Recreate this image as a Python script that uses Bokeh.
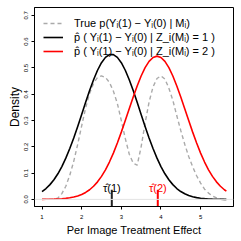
from bokeh.plotting import figure
from bokeh.models import FixedTicker, PrintfTickFormatter, Span, Legend, LegendItem
from bokeh.embed import file_html
from bokeh.resources import INLINE
from bokeh.core.properties import value

# ---- data ----
x_grid = [1.0, 1.1, 1.2, 1.3, 1.4, 1.5, 1.6, 1.7, 1.8, 1.9,
          2.0, 2.1, 2.2, 2.3, 2.4, 2.5, 2.6, 2.7, 2.8, 2.9,
          3.0, 3.1, 3.2, 3.3, 3.4, 3.5, 3.6, 3.7, 3.8, 3.9,
          4.0, 4.1, 4.2, 4.3, 4.4, 4.5, 4.6, 4.7, 4.8, 4.9,
          5.0, 5.1, 5.2, 5.3, 5.4, 5.5, 5.6, 5.65]

true_density = [0.000, 0.000, 0.000, 0.001, 0.005, 0.022, 0.050, 0.092, 0.145, 0.210,
                0.280, 0.348, 0.403, 0.442, 0.464, 0.470, 0.464, 0.445, 0.412, 0.365,
                0.300, 0.232, 0.172, 0.138, 0.130, 0.200, 0.290, 0.370, 0.428, 0.460,
                0.470, 0.458, 0.423, 0.377, 0.318, 0.262, 0.210, 0.163, 0.124, 0.090,
                0.062, 0.039, 0.024, 0.013, 0.006, 0.002, 0.000, 0.000]

est_density_1 = [0.0300, 0.0414, 0.0562, 0.0747, 0.0975, 0.1249, 0.1569, 0.1934, 0.2339, 0.2777,
                 0.3233, 0.3693, 0.4140, 0.4553, 0.4913, 0.5202, 0.5403, 0.5507, 0.5507, 0.5403,
                 0.5202, 0.4913, 0.4553, 0.4140, 0.3693, 0.3233, 0.2777, 0.2339, 0.1934, 0.1569,
                 0.1249, 0.0975, 0.0747, 0.0562, 0.0414, 0.0300, 0.0213, 0.0148, 0.0101, 0.0068,
                 0.0045, 0.0029, 0.0018, 0.0011, 0.0007, 0.0004, 0.0002, 0.0002]

est_density_2 = [0.0002, 0.0004, 0.0006, 0.0010, 0.0016, 0.0025, 0.0039, 0.0060, 0.0089, 0.0130,
                 0.0188, 0.0265, 0.0367, 0.0500, 0.0668, 0.0875, 0.1126, 0.1422, 0.1762, 0.2144,
                 0.2559, 0.2999, 0.3450, 0.3895, 0.4316, 0.4694, 0.5011, 0.5250, 0.5399, 0.5450,
                 0.5399, 0.5250, 0.5011, 0.4694, 0.4316, 0.3895, 0.3450, 0.2999, 0.2559, 0.2144,
                 0.1762, 0.1422, 0.1126, 0.0875, 0.0668, 0.0500, 0.0367, 0.0313]

tau_hat = [2.76, 3.92]
tau_labels = ["\u03c4\u0302(1)", "\u03c4\u0302(2)"]
tau_colors = ["black", "red"]

x_ticks = [1, 2, 3, 4, 5]
y_ticks = [0.0, 0.1, 0.2, 0.3, 0.4, 0.5, 0.6, 0.7]

legend_labels = [
    "True p(Y\u1d62(1) \u2212 Y\u1d62(0) | M\u1d62)",
    "p\u0302 ( Y\u1d62(1) \u2212 Y\u1d62(0) | Z_i(M\u1d62) = 1 )",
    "p\u0302 ( Y\u1d62(1) \u2212 Y\u1d62(0) | Z_i(M\u1d62) = 2 )",
]

FONT = "Liberation Sans"

p = figure(width=241, height=241, x_range=(0.81, 5.83), y_range=(-0.027, 0.73),
           output_backend="svg", toolbar_location=None,
           min_border_left=34, min_border_right=8, min_border_top=7, min_border_bottom=35,
           styles={"position": "absolute", "left": "0px", "top": "0px"})

p.grid.visible = False
p.outline_line_color = "black"
p.outline_line_width = 1
p.background_fill_color = "white"
p.border_fill_color = "white"

# zero reference line
p.add_layout(Span(location=0, dimension="width", line_color="#e4e4e4", line_width=1))

r_true = p.line(x_grid, true_density, line_color="#aaaaaa", line_width=1.4, line_dash="4 3")
r1 = p.line(x_grid, est_density_1, line_color="black", line_width=1.6)
r2 = p.line(x_grid, est_density_2, line_color="red", line_width=1.6)

# tau hat markers
p.segment(x0=tau_hat, y0=[-1, -1], x1=tau_hat, y1=[0.037, 0.037],
          line_color=["#222222", "red"], line_width=2)
p.text(x=tau_hat, y=[0.045, 0.045], text=tau_labels, text_color=tau_colors,
       text_align="center", text_baseline="alphabetic",
       text_font=value(FONT), text_font_size="11px")

legend = Legend(items=[LegendItem(label=legend_labels[0], renderers=[r_true]),
                       LegendItem(label=legend_labels[1], renderers=[r1]),
                       LegendItem(label=legend_labels[2], renderers=[r2])],
                location="top_left", border_line_color=None, background_fill_alpha=0,
                margin=9, padding=0, spacing=0, glyph_width=20, glyph_height=14,
                label_height=14, label_standoff=11,
                label_text_font=FONT, label_text_font_size="11px",
                label_text_baseline="middle", label_text_color="black")
p.add_layout(legend)

# axes
for ax in (p.xaxis, p.yaxis):
    ax.axis_line_color = "black"
    ax.major_tick_line_color = "black"
    ax.minor_tick_line_color = None
    ax.major_tick_in = 0
    ax.major_tick_out = 3
    ax.major_label_text_font = FONT
    ax.major_label_text_font_size = "6px"
    ax.major_label_text_color = "black"
    ax.axis_label_text_font = FONT
    ax.axis_label_text_font_style = "normal"
    ax.axis_label_text_color = "black"

p.xaxis.ticker = FixedTicker(ticks=x_ticks)
p.xaxis.formatter = PrintfTickFormatter(format="%d")
p.xaxis.major_label_standoff = 5
p.xaxis.axis_label = "Per Image Treatment Effect"
p.xaxis.axis_label_text_font_size = "11px"
p.xaxis.axis_label_standoff = 2

p.yaxis.ticker = FixedTicker(ticks=y_ticks)
p.yaxis.formatter = PrintfTickFormatter(format="%.1f")
p.yaxis.major_label_orientation = "vertical"
p.yaxis.major_label_standoff = 3
p.yaxis.axis_label = "Density"
p.yaxis.axis_label_text_font_size = "12px"
p.yaxis.axis_label_standoff = 0

open("out.html", "w").write(file_html(p, INLINE))
